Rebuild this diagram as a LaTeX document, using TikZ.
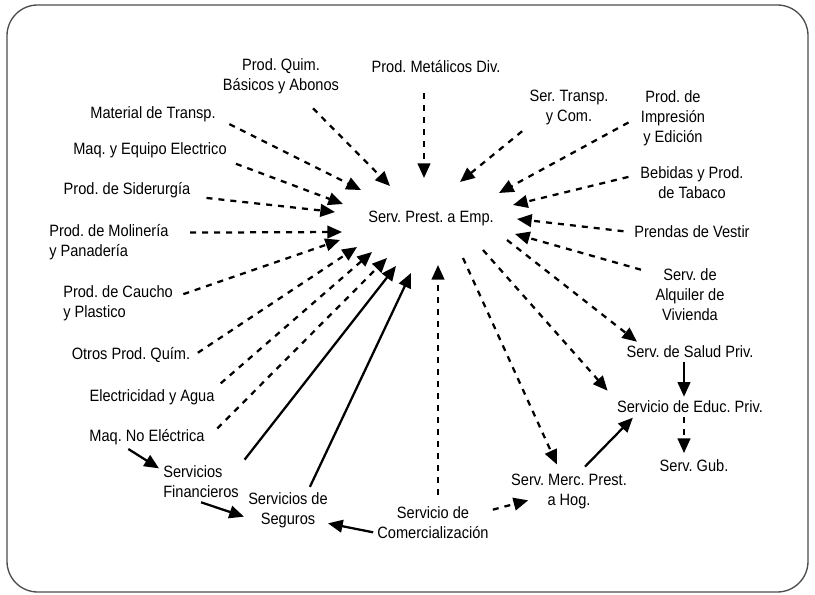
\documentclass[tikz,border=0pt]{standalone}
\usepackage{fontspec}
\setmainfont[FakeStretch=0.89]{Liberation Sans}
\usetikzlibrary{arrows.meta}
\frenchspacing
\begin{document}
\begin{tikzpicture}[x=0.75pt,y=-0.75pt,
  lbl/.style={font=\fontsize{12.3pt}{15pt}\selectfont, align=center, inner sep=3pt},
  lbll/.style={lbl, align=left},
  tip/.style={-{Triangle[length=11pt,width=9.5pt]}},
  dep/.style={tip, line width=1.7pt, dash pattern=on 4.5pt off 4.5pt},
  flow/.style={tip, line width=1.7pt},
  frame/.style={draw=black!70, line width=1pt, rounded corners=23pt}]

\useasboundingbox (0,0) rectangle (815,595);
\draw[frame] (7,5) rectangle (808,592);

% central sector
\node[lbl] (hub) at (431,218) {Serv. Prest. a Emp.};

% suppliers around the centre
\node[lbl] (quim) at (281,76) {Prod. Quim.\\Básicos y Abonos};
\node[lbl] (metal) at (436,67) {Prod. Metálicos Div.};
\node[lbl] (transp) at (569,107) {Ser. Transp.\\y Com.};
\node[lbl] (impres) at (673,118) {Prod. de\\Impresión\\y Edición};
\node[lbl] (bebid) at (692,183) {Bebidas y Prod.\\de Tabaco};
\node[lbl] (prendas) at (692,232) {Prendas de Vestir};
\node[lbl] (alq) at (690,295) {Serv. de\\Alquiler de\\Vivienda};
\node[lbl] (mattr) at (153,114) {Material de Transp.};
\node[lbl] (maqeq) at (150,150) {Maq. y Equipo Electrico};
\node[lbl] (sider) at (127,190) {Prod. de Siderurgía};
\node[lbll, anchor=west] (molin) at (45,242) {Prod. de Molinería\\y Panadería};
\node[lbll, anchor=west] (caucho) at (59,303) {Prod. de Caucho\\y Plastico};
\node[lbl] (otros) at (131,355) {Otros Prod. Quím.};
\node[lbl] (elec) at (152,397) {Electricidad y Agua};
\node[lbl] (maqno) at (147,437) {Maq. No Eléctrica};
\node[lbll, anchor=west] (finan) at (159,482) {Servicios\\Financieros};
\node[lbl] (seg) at (288,510) {Servicios de\\Seguros};
\node[lbl] (comerc) at (433,523) {Servicio de\\Comercialización};

% users of the centre
\node[lbl] (merc) at (569,491) {Serv. Merc. Prest.\\a Hog.};
\node[lbl] (salud) at (690,352) {Serv. de Salud Priv.};
\node[lbl] (educ) at (690,407) {Servicio de Educ. Priv.};
\node[lbl] (gub) at (694,466) {Serv. Gub.};

% ports around the central sector
\coordinate (h-quim) at (390,186);
\coordinate (h-metal) at (424,178);
\coordinate (h-transp) at (460,182);
\coordinate (h-impres) at (499,193);
\coordinate (h-bebid) at (513,205);
\coordinate (h-prendas) at (517,219);
\coordinate (h-alq) at (515,234);
\coordinate (h-mattr) at (361,190);
\coordinate (h-maqeq) at (343,204);
\coordinate (h-sider) at (335,212);
\coordinate (h-molin) at (342,232);
\coordinate (h-caucho) at (340,240);
\coordinate (h-otros) at (357,247);
\coordinate (h-elec) at (372,252);
\coordinate (h-maqno) at (387,258);
\coordinate (h-finan) at (396,266);
\coordinate (h-seg) at (411,273);
\coordinate (h-comerc) at (438,265);
\coordinate (h-salud) at (507,240);
\coordinate (h-educ) at (483,250);
\coordinate (h-merc) at (463,258);

% inputs to the central sector
\draw[dep, shorten <=11pt] (quim) -- (h-quim);
\draw[dep, shorten <=12pt] (metal.south -| h-metal) -- (h-metal);
\draw[dep, shorten <=3pt] (transp.south west) -- (h-transp);
\draw[dep, shorten <=7pt] (impres.west) -- (h-impres);
\draw[dep, shorten <=6pt] ([yshift=6pt]bebid.west) -- (h-bebid);
\draw[dep, shorten <=5pt] (prendas.west) -- (h-prendas);
\draw[dep, shorten <=8pt] (alq.150) -- (h-alq);
\draw[dep, shorten <=8pt] ([yshift=-4pt]mattr.east) -- (h-mattr);
\draw[dep, shorten <=4pt] (maqeq.south east) -- (h-maqeq);
\draw[dep, shorten <=9pt] ([yshift=-5pt]sider.east) -- (h-sider);
\draw[dep, shorten <=13pt] ([yshift=7pt]molin.east) -- (h-molin);
\draw[dep, shorten <=5pt] ([yshift=5pt]caucho.east) -- (h-caucho);
\draw[dep, shorten <=3pt] (otros.east) -- (h-otros);
\draw[dep, shorten <=2pt] (elec.north east) -- (h-elec);
\draw[dep, shorten <=9pt] (maqno.east) -- (h-maqno);
\draw[flow, shorten <=2pt] (finan.north east) -- (h-finan);
\draw[flow, shorten <=1pt] ([xshift=16pt]seg.north) -- (h-seg);
\draw[dep, shorten <=6pt] (comerc.north -| h-comerc) -- (h-comerc);

% outputs of the central sector
\draw[dep] (h-salud) -- ([xshift=11pt]salud.north west);
\draw[dep, shorten >=6pt] (h-educ) -- (educ.north west);
\draw[dep, shorten >=4pt] (h-merc) -- (merc);

% links among the remaining sectors
\draw[flow] ([xshift=-14pt]maqno.south) -- ([yshift=-5pt]finan.north west);
\draw[flow] (finan.south) -- ([yshift=-5pt]seg.west);
\draw[flow] ([yshift=-7pt]comerc.west) -- ([xshift=-3pt,yshift=-10pt]seg.east);
\draw[dep] ([yshift=10pt]comerc.east) -- ([xshift=16pt,yshift=-7pt]merc.west);
\draw[flow] ([xshift=12pt,yshift=2pt]merc.north) -- ([xshift=15pt,yshift=-8pt]educ.west);
\draw[flow] ([xshift=-4.5pt]salud.south) -- ([xshift=-4.5pt]educ.north);
\draw[dep] ([xshift=-4.5pt]educ.south) -- ([xshift=-7.5pt,yshift=2pt]gub.north);
\end{tikzpicture}
\end{document}
